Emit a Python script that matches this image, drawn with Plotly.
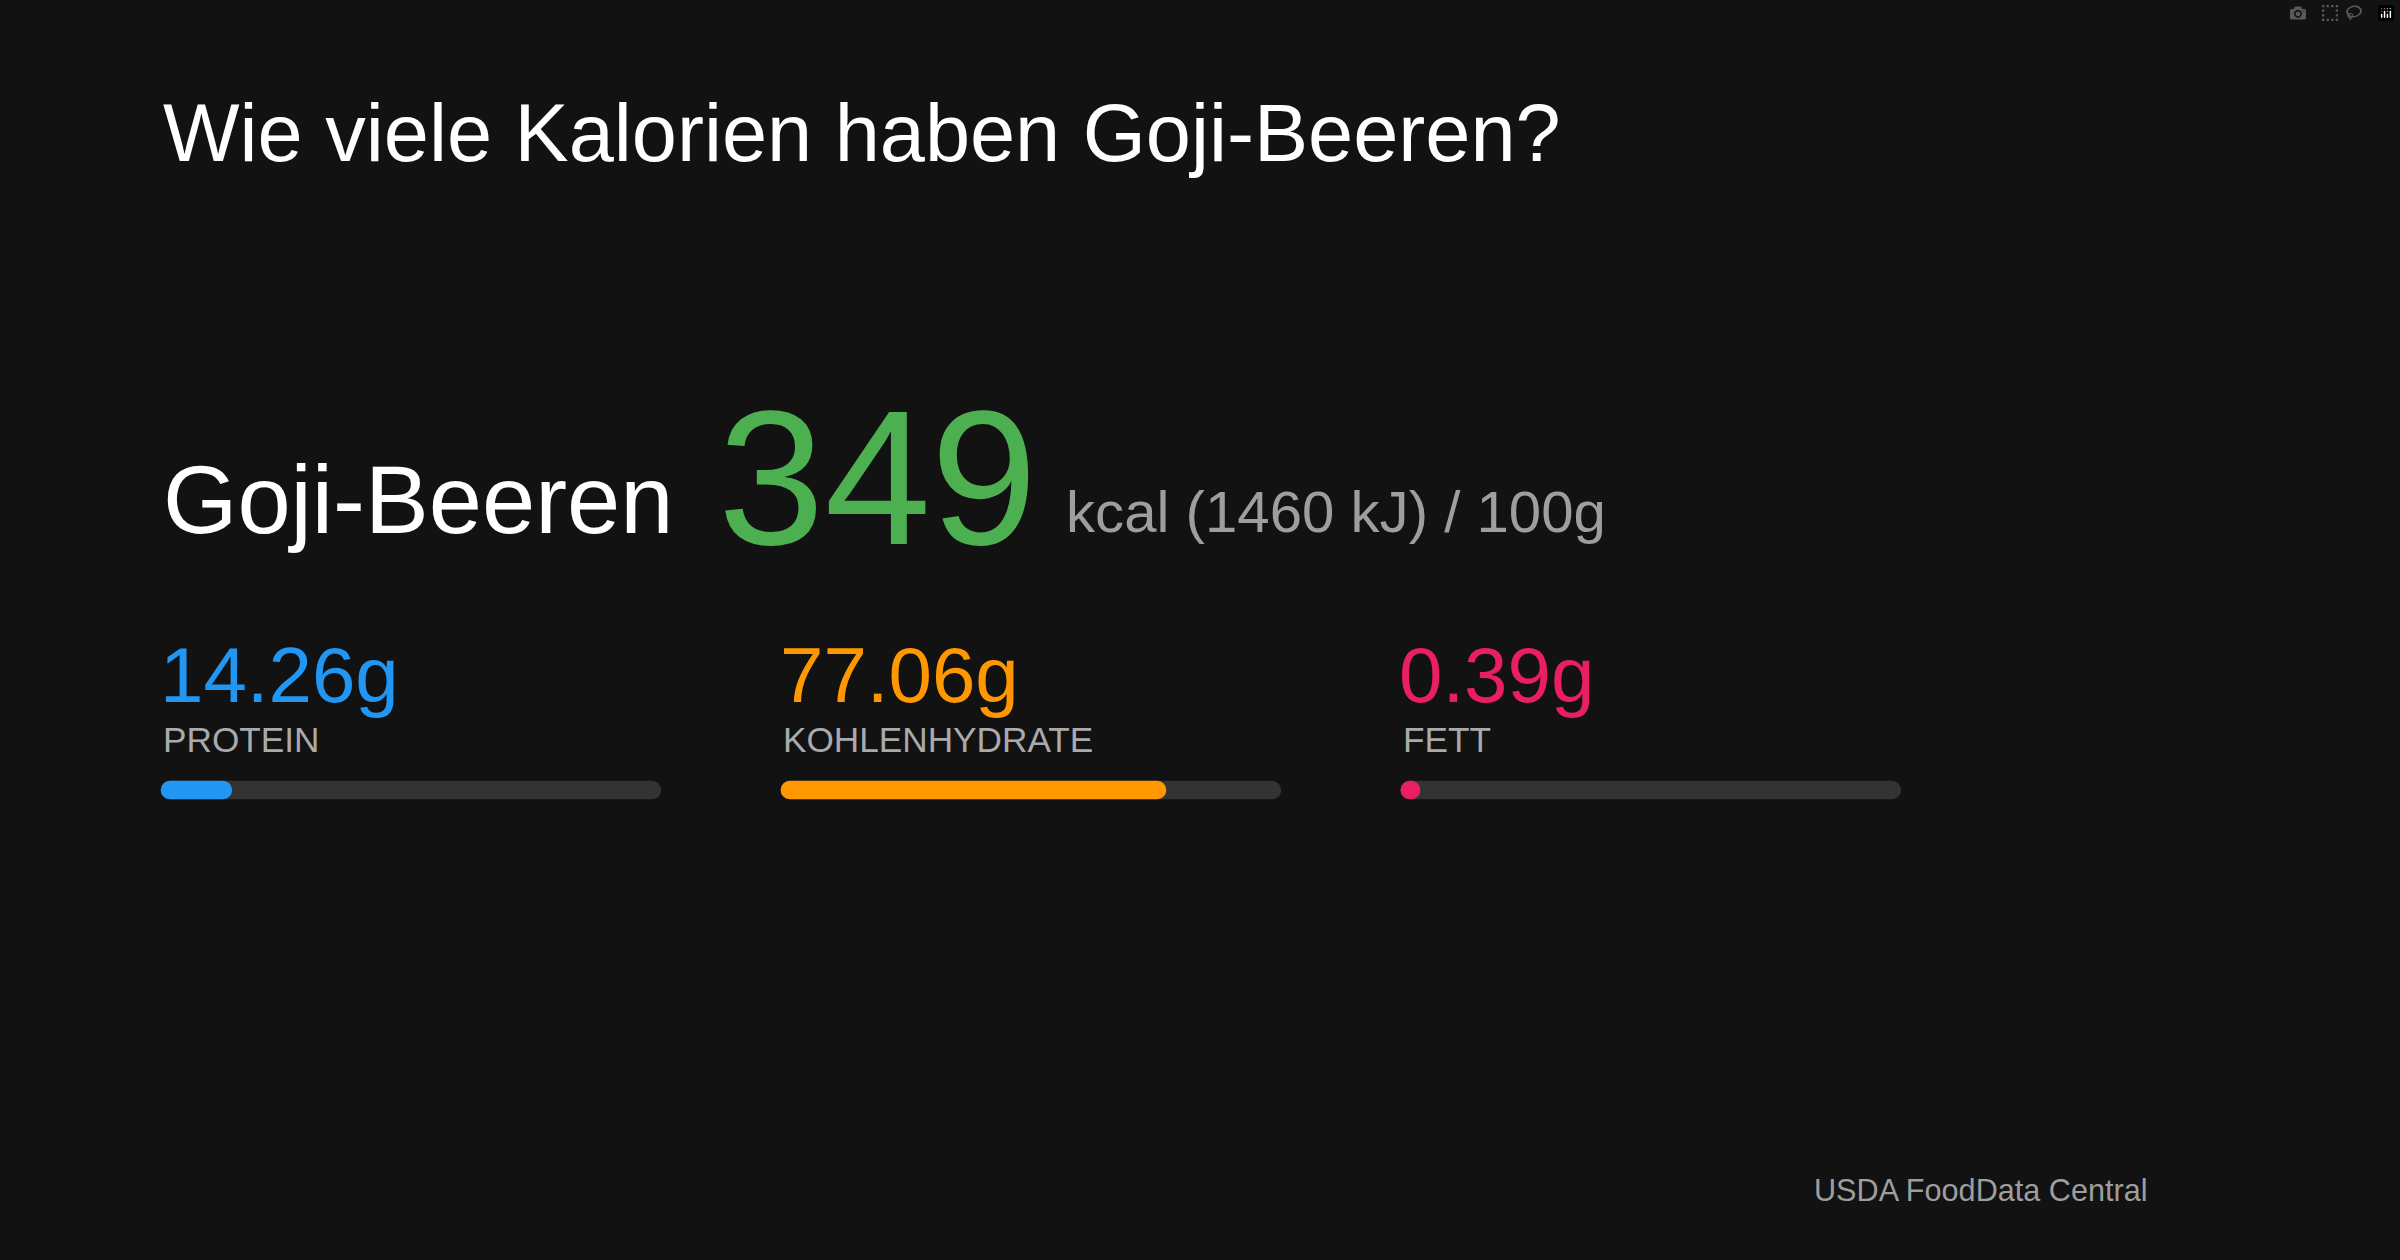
import plotly.graph_objects as go

S = 2400 / 1568  # reference units -> pixels

title = "Wie viele Kalorien haben Goji-Beeren?"
food = "Goji-Beeren"
kcal = 349
kcal_note = "kcal (1460 kJ) / 100g"
source = "USDA FoodData Central"

nutrients = ["PROTEIN", "KOHLENHYDRATE", "FETT"]
grams = [14.26, 77.06, 0.39]
colors = ["#2196f3", "#ff9800", "#e91e63"]
starts = [105, 510, 915]
bar_len = 327
bar_min = 13

font = "Liberation Sans"
fig = go.Figure()

# track bars
fig.add_trace(go.Bar(
    y=[516] * 3, x=[bar_len] * 3, base=starts, orientation="h", width=12,
    marker=dict(color="#333333", line_width=0), showlegend=False, hoverinfo="skip",
))
# filled part
fig.add_trace(go.Bar(
    y=[516] * 3, x=[max(g / 100 * bar_len, bar_min) for g in grams], base=starts,
    orientation="h", width=12, marker=dict(color=colors, line_width=0),
    showlegend=False, hoverinfo="skip",
))

ann = [
    dict(x=105, y=87, text=title, size=53, color="#ffffff"),
    dict(x=105, y=326, text=food, size=62.5, color="#ffffff"),
    dict(x=468, y=312, text=str(kcal), size=125, color="#4caf50"),
    dict(x=695, y=334, text=kcal_note, size=38, color="#9e9e9e"),
]
for n, g, c, s in zip(nutrients, grams, colors, starts):
    ann.append(dict(x=s - 2, y=441, text=f"{g:.2f}g", size=51, color=c))
    ann.append(dict(x=s, y=483, text=n, size=23, color="#aaaaaa"))

for a in ann:
    fig.add_annotation(x=a["x"], y=a["y"], text=a["text"], showarrow=False,
                       xanchor="left", yanchor="middle", xref="x", yref="y",
                       font=dict(family=font, size=a["size"] * S, color=a["color"]))
fig.add_annotation(x=1404, y=777, text=source, showarrow=False, xanchor="right",
                   yanchor="middle", xref="x", yref="y",
                   font=dict(family=font, size=20 * S, color="#9e9e9e"))

fig.update_layout(
    width=2400, height=1260, margin=dict(l=0, r=0, t=0, b=0),
    paper_bgcolor="#121212", plot_bgcolor="#121212",
    barmode="overlay", barcornerradius="50%",
    xaxis=dict(range=[0, 1568], visible=False, fixedrange=True),
    yaxis=dict(range=[823, 0], visible=False, fixedrange=True),
)

fig.write_html("out.html", post_script="document.body.style.margin='0';document.body.style.background='#121212';")
